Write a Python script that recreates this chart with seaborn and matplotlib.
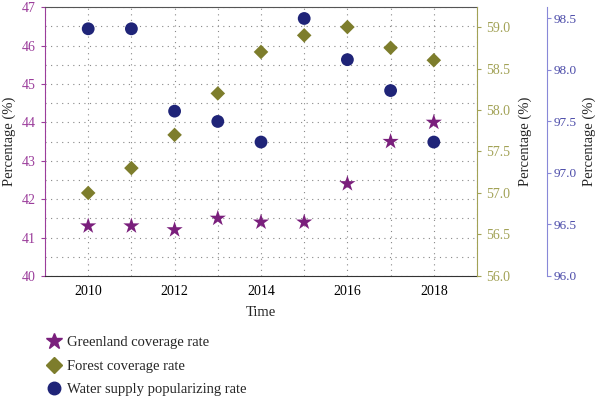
import numpy as np
import pandas as pd
import matplotlib
matplotlib.use('Agg')
import matplotlib.pyplot as plt
import seaborn as sns
from matplotlib.ticker import MultipleLocator, FormatStrFormatter
from matplotlib.lines import Line2D

# data
years = [2010, 2011, 2012, 2013, 2014, 2015, 2016, 2017, 2018]
greenland = [41.3, 41.3, 41.2, 41.5, 41.4, 41.4, 42.4, 43.5, 44.0]
forest = [57.0, 57.3, 57.7, 58.2, 58.7, 58.9, 59.0, 58.75, 58.6]
water = [98.4, 98.4, 97.6, 97.5, 97.3, 98.5, 98.1, 97.8, 97.3]

df = pd.DataFrame({'Year': years, 'Greenland': greenland, 'Forest': forest, 'Water': water})

sns.set_style('white')
plt.rcParams['font.family'] = ['Liberation Serif', 'DejaVu Serif']

c_green = '#7a1f7c'
c_green_ax = '#9b3d9b'
c_forest = '#7d7d2c'
c_forest_ax = '#a2a256'
c_water = '#1f2478'
c_water_ax = '#4a4aa8'

fig = plt.figure(figsize=(6, 3.97), dpi=100)
ax1 = fig.add_axes([0.075, 0.305, 0.72, 0.677])
ax2 = ax1.twinx()
ax3 = ax1.twinx()
ax3.spines['right'].set_position(('axes', 1.162))

# scatter points for each series on its own axis
sns.scatterplot(data=df, x='Year', y='Greenland', ax=ax1, marker='*', s=150, color=c_green,
                edgecolor='none', zorder=3)
sns.scatterplot(data=df, x='Year', y='Forest', ax=ax2, marker='D', s=55, color=c_forest,
                edgecolor='none', zorder=3)
sns.scatterplot(data=df, x='Year', y='Water', ax=ax3, marker='o', s=85, color=c_water,
                edgecolor='none', zorder=3)

# axis limits and ticks
ax1.set_xlim(2009, 2019)
ax1.set_ylim(40, 47)
ax2.set_ylim(56.0, 59.24)
ax3.set_ylim(96.0, 98.61)

ax1.xaxis.set_major_locator(MultipleLocator(2))
ax1.xaxis.set_minor_locator(MultipleLocator(1))
ax1.yaxis.set_major_locator(MultipleLocator(1))
ax1.yaxis.set_minor_locator(MultipleLocator(0.5))
ax2.yaxis.set_major_locator(MultipleLocator(0.5))
ax2.yaxis.set_major_formatter(FormatStrFormatter('%.1f'))
ax3.yaxis.set_major_locator(MultipleLocator(0.5))
ax3.yaxis.set_major_formatter(FormatStrFormatter('%.1f'))

# dotted grid
ax1.grid(which='both', linestyle=(0, (1, 4)), color='#888888', linewidth=0.8)
ax1.set_axisbelow(True)

# labels
ax1.set_xlabel('Time', fontsize=10.5, labelpad=6)
ax1.set_ylabel('Percentage (%)', fontsize=10.5, labelpad=4)
ax2.set_ylabel('Percentage (%)', fontsize=10.5, labelpad=6)
ax3.set_ylabel('Percentage (%)', fontsize=10.5, labelpad=4)

# spines and colours
ax1.spines['bottom'].set_color('#333333')
ax1.spines['top'].set_color('#555555')
ax1.spines['left'].set_color(c_green_ax)
ax2.spines['right'].set_color(c_forest_ax)
ax3.spines['right'].set_color('#8888d8')
for ax in [ax2, ax3]:
    ax.spines['left'].set_visible(False)
    ax.spines['top'].set_visible(False)
    ax.spines['bottom'].set_visible(False)
ax1.spines['right'].set_visible(False)

ax1.tick_params(axis='x', which='major', direction='out', length=3, labelsize=10, colors='#333333', labelcolor='black')
ax1.tick_params(axis='x', which='minor', length=0)
ax1.tick_params(axis='y', which='major', direction='out', length=3, labelsize=10, colors=c_green_ax)
ax1.tick_params(axis='y', which='minor', length=0)
ax2.tick_params(axis='y', direction='out', length=3, labelsize=10, colors=c_forest_ax)
ax3.tick_params(axis='y', direction='out', length=3, labelsize=9.5, colors=c_water_ax, pad=2)
ax3.tick_params(axis='y', color='#8888d8')

# legend under the chart
handles = [
    Line2D([], [], marker='*', color=c_green, linestyle='none', markersize=12),
    Line2D([], [], marker='D', color=c_forest, linestyle='none', markersize=8),
    Line2D([], [], marker='o', color=c_water, linestyle='none', markersize=9),
]
labels = ['Greenland coverage rate', 'Forest coverage rate', 'Water supply popularizing rate']
fig.legend(handles, labels, loc='upper left', bbox_to_anchor=(0.065, 0.168), frameon=False,
           fontsize=10.5, handlelength=1.2, handletextpad=0.3, labelspacing=0.7, borderaxespad=0)

plt.savefig('out.png', dpi=100)
